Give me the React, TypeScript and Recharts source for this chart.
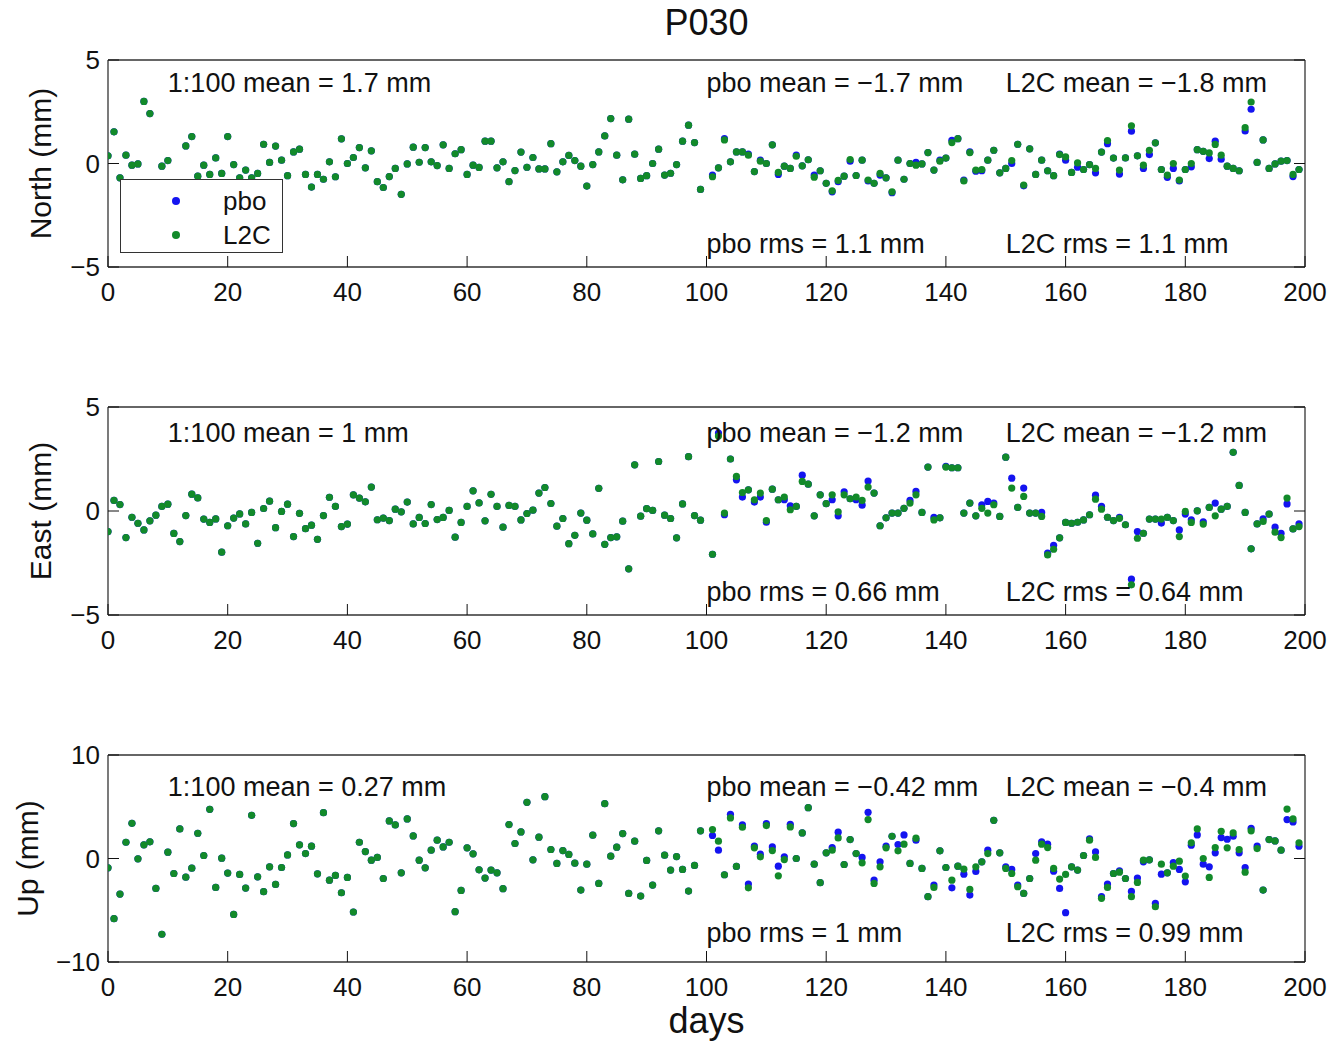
import { ScatterChart, Scatter, XAxis, YAxis, ReferenceDot, Legend } from "recharts";

document.body.style.margin = "0";

const BLUE = "#1414f0";
const GREEN = "#128a2a";
const INK = "#111";
const FONT = '"Liberation Sans", Arial, Helvetica, sans-serif';
const TICK = 11;

type Num = number | null;

const dayTicks = [0, 20, 40, 60, 80, 100, 120, 140, 160, 180, 200];
const noteDays = [10, 100, 150, 100, 150];
const legendOrder = ["pbo", "L2C"];

// one value per day (index = day), null where no point is visible
const northL2C: Num[] = [
  0.37, 1.53, -0.69, 0.4, -0.08, -0.02, 3.0, 2.41, null, -0.13,
  0.14, null, null, 0.85, 1.3, -0.61, -0.08, -0.53, 0.27, -0.48,
  1.3, -0.05, -0.69, -0.32, -0.69, -0.48, 0.93, 0.05, 0.84, 0.16,
  -0.59, 0.56, 0.69, -0.53, -1.14, -0.53, -0.76, 0.08, -0.64, 1.19,
  0, 0.29, 0.77, -0.21, 0.61, -0.88, -1.16, -0.63, -0.24, -1.49,
  -0.02, 0.79, 0.06, 0.77, 0.08, -0.1, 0.9, -0.24, 0.47, 0.67,
  -0.53, -0.08, -0.19, 1.08, 1.08, -0.21, 0.08, -0.88, -0.34, 0.55,
  -0.18, 0.29, -0.26, -0.26, 0.96, -0.4, 0.08, 0.39, 0.14, -0.13,
  -1.09, -0.05, 0.56, 1.33, 2.17, 0.4, -0.79, 2.14, 0.45, -0.72,
  -0.59, 0, 0.69, -0.56, -0.47, -0.05, 1.08, 1.85, 1.01, -1.25,
  null, -0.64, -0.21, 1.14, 0.08, 0.56, 0.56, 0.4, -0.39, 0.11,
  0, 0.9, -0.43, -0.13, -0.24, 0.35, -0.11, 0.18, -0.66, -0.35,
  -0.96, -1.32, -0.82, -0.61, 0.19, -0.58, 0.16, -0.8, -0.96, -0.48,
  -0.69, -1.37, 0.16, -0.76, 0, -0.08, -0.02, 0.53, -0.32, 0.11,
  0.26, 1.01, 1.2, -0.84, 0.53, -0.32, -0.29, 0.16, 0.64, -0.45,
  -0.24, 0.14, 0.93, -1.04, 0.71, -0.53, 0.16, -0.35, -0.59, 0.43,
  0.32, -0.43, 0.03, -0.29, -0.05, -0.24, 0.55, 1.11, 0.26, -0.32,
  0.27, 1.82, 0.37, -0.08, 0.64, 1.0, -0.29, -0.56, 0, -0.8,
  -0.29, 0, 0.67, 0.59, 0.51, 0.92, 0.4, -0.13, -0.24, -0.35,
  1.73, 2.97, 0.05, 1.14, -0.24, -0.02, 0.11, 0.14, -0.53, -0.29,
];
// pbo for days 101..199 (days 0..100 sit exactly under the L2C dots)
const northPboLate = [
  -0.56, -0.21, 1.2, 0.08, 0.56, 0.56, 0.45, -0.39, 0.16,
  0, 0.9, -0.53, -0.13, -0.24, 0.4, -0.11, 0.18, -0.56, -0.35,
  -0.96, -1.37, -0.88, -0.61, 0.11, -0.58, 0.16, -0.84, -0.96, -0.56,
  -0.69, -1.41, 0.16, -0.76, 0, 0.05, -0.02, 0.53, -0.32, 0.16,
  0.26, 1.12, 1.2, -0.8, 0.56, -0.37, -0.35, 0.16, 0.64, -0.45,
  -0.24, 0, 0.93, -1.08, 0.71, -0.53, 0.16, -0.35, -0.59, 0.45,
  0.16, -0.43, -0.18, -0.29, -0.05, -0.45, 0.55, 0.96, 0.26, -0.51,
  0.27, 1.56, 0.37, -0.24, 0.43, 1.0, -0.29, -0.67, -0.24, -0.84,
  -0.29, -0.16, 0.67, 0.59, 0.24, 1.08, 0.21, -0.13, -0.24, -0.35,
  1.57, 2.62, 0.05, 1.14, -0.24, -0.02, 0.11, 0.14, -0.63, -0.29,
];
const northNotes = ["1:100 mean = 1.7 mm", "pbo mean = \u22121.7 mm", "L2C mean = \u22121.8 mm", "pbo rms = 1.1 mm", "L2C rms = 1.1 mm"];

const eastL2C: Num[] = [
  -0.99, 0.51, 0.31, -1.28, -0.3, -0.59, -0.91, -0.47, -0.2, 0.22,
  0.33, -1.08, -1.47, -0.22, 0.81, 0.63, -0.39, -0.55, -0.38, -1.98,
  -0.71, -0.34, -0.14, -0.62, -0.07, -1.55, 0.12, 0.47, -0.8, -0.02,
  0.33, -1.23, -0.11, -0.85, -0.68, -1.36, -0.22, 0.66, 0.22, -0.75,
  -0.63, 0.78, 0.62, 0.44, 1.15, -0.42, -0.34, -0.46, 0.09, -0.04,
  0.43, -0.62, -0.31, -0.6, 0.31, -0.41, -0.31, 0.03, -1.26, -0.55,
  0.22, 0.97, 0.39, -0.47, 0.8, 0.22, -0.78, 0.27, 0.22, -0.43,
  -0.12, 0.04, 0.86, 1.13, 0.36, -0.73, -0.36, -1.57, -1.17, -0.1,
  -0.44, -1.1, 1.09, -1.6, -1.28, -1.24, -0.49, -2.78, 2.22, -0.25,
  0.11, 0.03, 2.38, -0.2, -0.36, -1.29, 0.34, 2.61, -0.22, -0.44,
  null, -2.08, 3.6, -0.1, 2.5, 1.66, 0.89, 1.02, 0.54, 0.86,
  -0.46, 1.05, 0.54, 0.67, 0.06, 0.22, 1.42, 1.29, -0.23, 0.78,
  0.35, 0.78, -0.04, 0.78, 0.59, 0.67, 0.51, 1.15, 0.86, -0.71,
  -0.33, -0.1, -0.1, 0.13, 0.38, 0.78, -0.07, 2.11, -0.43, -0.33,
  2.11, 2.08, 2.08, -0.1, 0.38, -0.23, 0.13, -0.1, 0.3, -0.26,
  2.59, 1.1, 0.17, 0.7, -0.1, -0.1, -0.26, -2.11, -1.84, -1.29,
  -0.55, -0.59, -0.54, -0.43, -0.18, 0.57, 0.09, -0.3, -0.46, -0.35,
  -0.66, -3.55, -1.31, -1.07, -0.39, -0.39, -0.39, -0.3, -0.46, -1.23,
  -0.02, -0.55, 0.01, -0.63, 0.17, -0.23, 0.09, 0.22, 2.82, 1.23,
  -0.07, -1.82, -0.62, -0.5, -0.15, -1.02, -1.28, 0.62, -0.86, -0.75,
];
const eastPboLate = [
  -2.08, 3.75, -0.18, 2.5, 1.5, 0.67, 1.02, 0.43, 0.67,
  -0.54, 1.05, 0.54, 0.54, 0.25, 0.22, 1.72, 1.29, -0.23, 0.78,
  0.35, 0.54, -0.23, 0.92, 0.59, 0.54, 0.28, 1.44, 0.86, -0.71,
  -0.33, -0.1, -0.1, 0.13, 0.51, 0.94, -0.07, 2.11, -0.31, -0.33,
  2.15, 2.08, 2.08, -0.1, 0.38, -0.23, 0.3, 0.46, 0.38, -0.26,
  2.59, 1.58, 0.17, 1.1, -0.1, -0.1, -0.07, -2.03, -1.65, -1.29,
  -0.55, -0.59, -0.54, -0.43, -0.18, 0.76, 0.22, -0.3, -0.46, -0.31,
  -0.66, -3.28, -0.99, -1.07, -0.39, -0.39, -0.58, -0.3, -0.46, -0.91,
  -0.15, -0.42, 0.01, -0.52, 0.17, 0.38, 0.09, 0.22, 2.82, 1.23,
  -0.07, -1.82, -0.62, -0.38, -0.15, -0.78, -1.07, 0.34, -0.86, -0.62,
];
const eastNotes = ["1:100 mean = 1 mm", "pbo mean = \u22121.2 mm", "L2C mean = \u22121.2 mm", "pbo rms = 0.66 mm", "L2C rms = 0.64 mm"];

const upL2C: Num[] = [
  -0.9, -5.81, -3.44, 1.57, 3.4, -0.03, 1.32, 1.61, -2.89, -7.32,
  0.61, -1.45, 2.86, -1.8, -0.93, 2.44, 0.29, 4.75, -2.79, 0.03,
  -1.41, -5.4, -1.54, -2.86, 4.17, -1.77, -3.21, -0.8, -2.5, -0.87,
  0.35, 3.37, 1.32, 0.48, 1.19, -1.48, 4.43, -2.09, -1.64, -3.31,
  -1.83, -5.17, 1.57, 0.67, -0.16, 0.1, -1.93, 3.63, 3.24, -1.38,
  3.82, 2.18, -0.16, -0.9, 0.8, 1.77, 1.12, 1.57, -5.14, -3.08,
  1.03, 0.45, -1.09, -1.89, -1.12, -1.38, -2.92, 3.28, 1.45, 2.57,
  5.43, -0.13, 2.06, 5.97, 0.87, -0.48, 0.77, 0.39, -0.45, -3.05,
  -0.55, 2.25, -2.41, 5.3, 0.22, 1.09, 2.41, -3.37, 1.67, -3.63,
  -0.19, -2.57, 2.67, 0.32, -1.12, 0.19, -1.06, -3.15, -0.67, 2.67,
  null, 2.79, 1.67, -1.57, 3.92, -0.77, 3.02, -2.83, 1.03, 0.16,
  3.18, 0.77, -1.67, -0.1, 3.05, 0, 2.47, 4.91, -0.55, -2.34,
  0.55, 0.8, 1.99, -0.58, 1.83, 0.48, -0.42, 3.76, -2.41, -0.8,
  1.03, 2.15, 0.74, 1.38, -0.48, 1.96, -0.96, -3.69, -2.79, 0.74,
  -0.87, -2.09, -0.74, -1.03, -2.99, -0.8, -0.32, 0.48, 3.69, 0.55,
  -0.96, -1.45, -2.73, -3.37, -1.93, -0.16, 1.38, 1.06, -0.96, -1.99,
  -1.54, -0.8, -1.12, 0.29, 1.77, 0.1, -3.85, -2.79, -1.45, -1.32,
  -1.93, -3.69, -2.31, -0.16, -0.13, -4.66, -0.55, -1.38, -0.74, -0.26,
  -1.7, 1.51, 2.86, 0, -1.83, 1.06, 2.63, 1.03, 2.47, 0.87,
  -1.32, 2.67, 0.96, -3.05, 1.83, 1.7, 0.8, 4.78, 3.82, 1.51,
];
const upPboLate = [
  2.22, 0.8, -1.57, 4.27, -0.77, 3.24, -2.47, 1.19, 0.42,
  3.37, 1.12, -0.74, 0.16, 3.31, 0, 2.47, 4.91, -0.55, -2.34,
  0.55, 1.06, 2.54, -0.58, 1.83, 0.48, 0.1, 4.46, -2.09, -0.32,
  1.19, 2.15, 1.35, 2.28, -0.48, 1.77, -0.96, -3.69, -2.57, 0.74,
  -0.87, -2.83, -0.74, -1.51, -3.53, -1.25, -0.32, 0.8, 3.69, 0.55,
  -0.8, -1.06, -2.57, -3.37, -1.93, 0.48, 1.61, 1.38, -1.22, -2.89,
  -5.23, -0.8, -1.12, 0.29, 1.89, 0.64, -3.69, -2.47, -1.45, -1.19,
  -1.93, -3.18, -1.89, -0.32, -0.13, -4.34, -1.51, -1.38, -0.39, -1.06,
  -2.25, 1.28, 2.28, -0.55, -0.8, 0.55, 2.02, 1.86, 2.15, 0.55,
  -0.87, 2.92, 1.19, -3.05, 1.83, 1.7, 0.8, 3.76, 3.53, 1.19,
];
const upNotes = ["1:100 mean = 0.27 mm", "pbo mean = \u22120.42 mm", "L2C mean = \u22120.4 mm", "pbo rms = 1 mm", "L2C rms = 0.99 mm"];

const fmt = (v: number) => (v < 0 ? `\u2212${-v}` : `${v}`);

const toPoints = (vals: Num[]) =>
  vals.flatMap((v, day) => (v === null ? [] : [{ day, v }]));

const dot = (color: string) => (p: any) => <circle cx={p.cx} cy={p.cy} r={3.6} fill={color} />;

const BottomTick = (p: any) => (
  <g>
    <line x1={p.x} y1={p.y} x2={p.x} y2={p.y - TICK} stroke={INK} />
    <text x={p.x} y={p.y + 25} dy="0.355em" textAnchor="middle" fontSize={26} fill={INK}>
      {fmt(p.payload.value)}
    </text>
  </g>
);
const TopTick = (p: any) => <line x1={p.x} y1={p.y} x2={p.x} y2={p.y + TICK} stroke={INK} />;
const LeftTick = (p: any) => (
  <g>
    <line x1={p.x} y1={p.y} x2={p.x + TICK} y2={p.y} stroke={INK} />
    <text x={p.x - 8} y={p.y} dy="0.355em" textAnchor="end" fontSize={26} fill={INK}>
      {fmt(p.payload.value)}
    </text>
  </g>
);
const RightTick = (p: any) => <line x1={p.x} y1={p.y} x2={p.x - TICK} y2={p.y} stroke={INK} />;

const axisText = (text: string, size: number, dx: number, dy: number, vertical = false) => ({
  value: text,
  content: (lp: any) => {
    const vb = lp.viewBox ?? { x: 0, y: 0, width: 0, height: 0 };
    const cx = vertical ? vb.x + dx : vb.x + vb.width / 2 + dx;
    const cy = vertical ? vb.y + vb.height / 2 + dy : vb.y + dy;
    return (
      <text
        transform={`translate(${cx},${cy})${vertical ? " rotate(-90)" : ""}`}
        textAnchor="middle"
        dy="0.355em"
        fontSize={size}
        fill={INK}
      >
        {text}
      </text>
    );
  },
});

const LegendBox = (props: any) => {
  const items = [...(props.payload ?? [])].sort(
    (a: any, b: any) => legendOrder.indexOf(a.value) - legendOrder.indexOf(b.value)
  );
  return (
    <div
      style={{
        width: 163,
        height: 74,
        border: "1px solid #333",
        background: "#fff",
        boxSizing: "border-box",
        position: "relative",
        fontSize: 26,
        fontFamily: FONT,
        color: INK,
      }}
    >
      {items.map((item: any, i: number) => (
        <div
          key={item.value}
          style={{ position: "absolute", left: 0, top: 4 + i * 34, height: 34, display: "flex", alignItems: "center" }}
        >
          <span style={{ width: 8, height: 8, borderRadius: 4, background: item.color, marginLeft: 51 }} />
          <span style={{ marginLeft: 43, lineHeight: "34px" }}>{item.value}</span>
        </div>
      ))}
    </div>
  );
};

type PanelProps = {
  plotTop: number;
  plotH: number;
  yMax: number;
  yTicks: number[];
  yLabel: string;
  yLabelX: number;
  l2c: Num[];
  pboLate: number[];
  notes: string[];
  noteTop: number;
  noteBottom: number;
  legend?: boolean;
  title?: string;
  xLabel?: string;
};

const Panel = ({
  plotTop, plotH, yMax, yTicks, yLabel, yLabelX, l2c, pboLate, notes, noteTop, noteBottom, legend, title, xLabel,
}: PanelProps) => {
  const pbo: Num[] = [...l2c.slice(0, 101), ...pboLate];
  const frame = { stroke: "#333", strokeWidth: 1.3 };
  return (
    <div style={{ position: "absolute", left: 0, top: plotTop - 60 }}>
      <ScatterChart
        width={1344}
        height={60 + plotH + 80}
        margin={{ top: 59, right: 38, bottom: 0, left: 0 }}
        style={{ fontFamily: FONT }}
      >
        <XAxis
          xAxisId="b"
          type="number"
          dataKey="day"
          domain={[0, 200]}
          allowDataOverflow
          ticks={dayTicks}
          interval={0}
          tickSize={0}
          tickMargin={0}
          tickLine={false}
          tick={BottomTick}
          axisLine={frame}
          height={80}
          label={xLabel ? axisText(xLabel, 36, 0, 58) : undefined}
        />
        <XAxis
          xAxisId="t"
          orientation="top"
          type="number"
          domain={[0, 200]}
          allowDataOverflow
          ticks={dayTicks}
          interval={0}
          tickSize={0}
          tickMargin={0}
          tickLine={false}
          tick={TopTick}
          axisLine={frame}
          height={1}
          label={title ? axisText(title, 36, 0, -37) : undefined}
        />
        <YAxis
          yAxisId="l"
          type="number"
          dataKey="v"
          domain={[-yMax, yMax]}
          allowDataOverflow
          ticks={yTicks}
          interval={0}
          tickSize={0}
          tickMargin={0}
          tickLine={false}
          tick={LeftTick}
          axisLine={frame}
          width={108}
          label={axisText(yLabel, 30, yLabelX, 0, true)}
        />
        <YAxis
          yAxisId="r"
          orientation="right"
          type="number"
          domain={[-yMax, yMax]}
          allowDataOverflow
          ticks={yTicks}
          interval={0}
          tickSize={0}
          tickMargin={0}
          tickLine={false}
          tick={RightTick}
          axisLine={frame}
          width={1}
        />
        <Scatter
          xAxisId="b"
          yAxisId="l"
          name="pbo"
          data={toPoints(pbo)}
          fill={BLUE}
          shape={dot(BLUE)}
          isAnimationActive={false}
        />
        <Scatter
          xAxisId="b"
          yAxisId="l"
          name="L2C"
          data={toPoints(l2c)}
          fill={GREEN}
          shape={dot(GREEN)}
          isAnimationActive={false}
        />
        {notes.map((n, i) => (
          <ReferenceDot
            key={n}
            xAxisId="b"
            yAxisId="l"
            x={noteDays[i]}
            y={i < 3 ? noteTop : noteBottom}
            r={0}
            fill="none"
            stroke="none"
            label={{ value: n, position: "right", offset: 0, fontSize: 27, fill: INK }}
          />
        ))}
        {legend && (
          <Legend
            layout="horizontal"
            verticalAlign="middle"
            align="center"
            content={LegendBox}
            wrapperStyle={{ left: 120, top: 179, width: 163, height: 74 }}
          />
        )}
      </ScatterChart>
    </div>
  );
};

const App = () => (
  <div style={{ position: "relative", width: 1344, height: 1046, background: "#fff", fontFamily: FONT }}>
    <Panel
      plotTop={60}
      plotH={207}
      yMax={5}
      yTicks={[-5, 0, 5]}
      yLabel="North (mm)"
      yLabelX={40}
      l2c={northL2C}
      pboLate={northPboLate}
      notes={northNotes}
      noteTop={3.9}
      noteBottom={-3.85}
      legend
      title="P030"
    />
    <Panel
      plotTop={407}
      plotH={208}
      yMax={5}
      yTicks={[-5, 0, 5]}
      yLabel="East (mm)"
      yLabelX={40}
      l2c={eastL2C}
      pboLate={eastPboLate}
      notes={eastNotes}
      noteTop={3.8}
      noteBottom={-3.85}
    />
    <Panel
      plotTop={755}
      plotH={207}
      yMax={10}
      yTicks={[-10, 0, 10]}
      yLabel="Up (mm)"
      yLabelX={27}
      l2c={upL2C}
      pboLate={upPboLate}
      notes={upNotes}
      noteTop={6.95}
      noteBottom={-7.1}
      xLabel="days"
    />
  </div>
);

export default App;
